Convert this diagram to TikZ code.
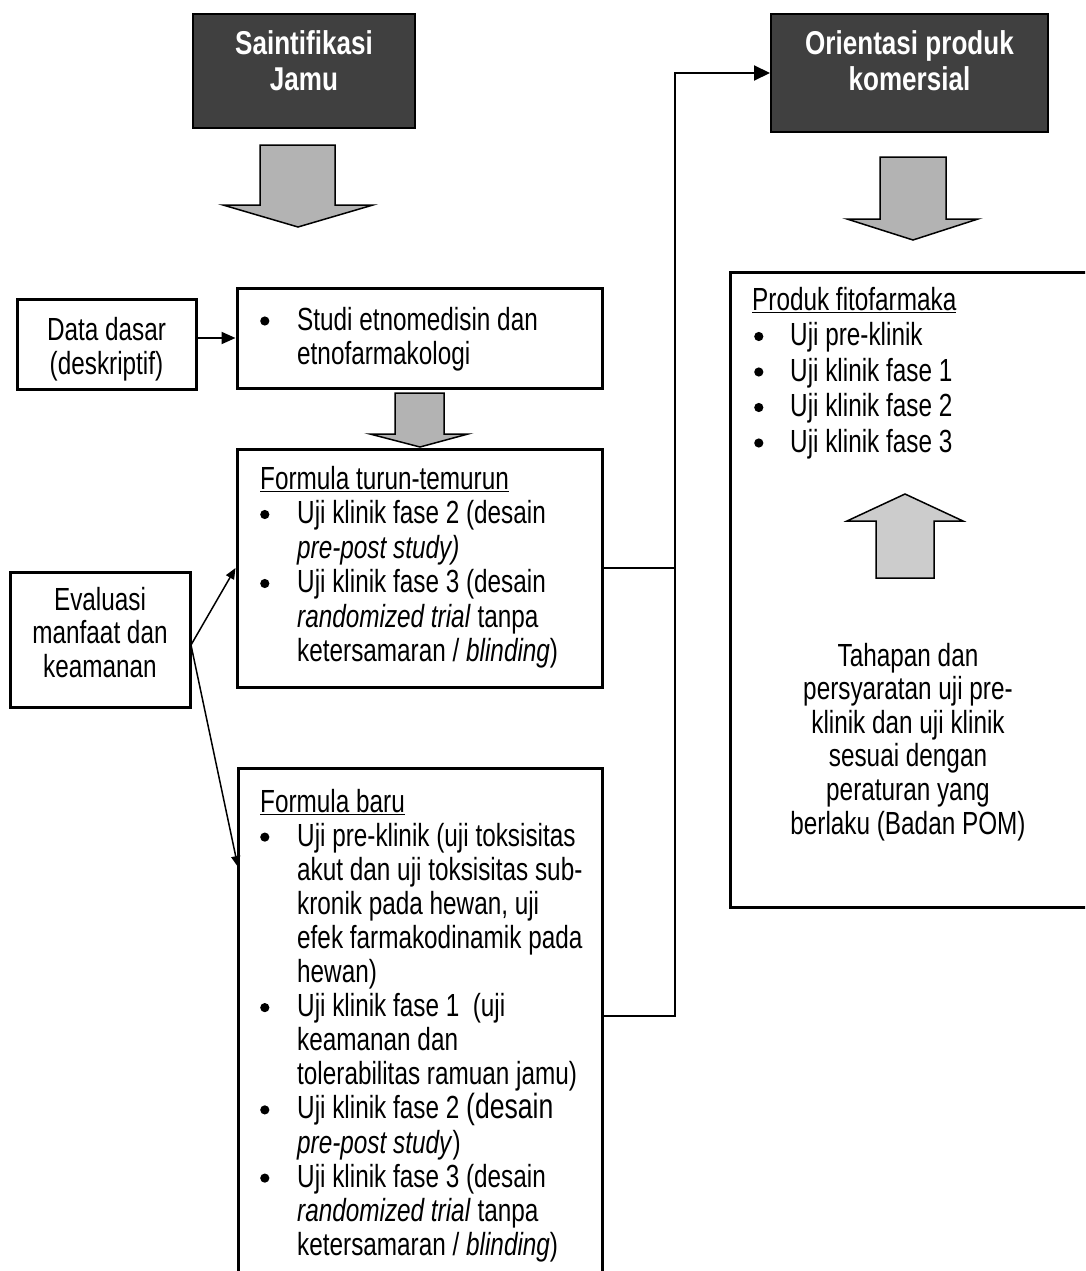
\documentclass[tikz,border=0pt]{standalone}
\usepackage{fontspec}
\setmainfont{Liberation Sans}[FakeStretch=0.76]
\newfontfamily\hdrfont{Liberation Sans}[FakeStretch=0.79]
\usetikzlibrary{arrows.meta}
\definecolor{hdr}{HTML}{404040}
\definecolor{arrowgray}{HTML}{B3B3B3}
\definecolor{arrowlight}{HTML}{CCCCCC}
\newcommand{\bdot}{\tikz[x=1pt,y=1pt,baseline=0pt]\fill[black] (5,9) circle[radius=4.6];}
\newcommand{\bulA}{\makebox[37pt][l]{\hspace{0pt}\bdot}}
\newcommand{\contA}{\hspace*{37pt}}
\newcommand{\bulB}{\makebox[38pt][l]{\hspace{2pt}\bdot}}
\begin{document}
\begin{tikzpicture}[x=1pt,y=-1pt,
  box/.style={draw=black, line width=3pt, fill=white, inner sep=0pt, rectangle},
  hdrbox/.style={draw=black, line width=2pt, fill=hdr, inner sep=0pt, rectangle},
  blockarrow/.style={draw=black, line width=1.5pt, fill=arrowgray, line join=miter},
  conn/.style={draw=black, line width=2pt},
  txt/.style={inner sep=0pt, text=black},
  hdrtxt/.style={inner sep=0pt, font=\hdrfont\fontsize{33}{36}\selectfont\bfseries, text=white},
]
\useasboundingbox (0,0) rectangle (1085,1271);
\clip (0,0) rectangle (1085,1271);
\fill[white] (0,0) rectangle (1085,1271);

% header boxes
\node[hdrbox, minimum width=222pt, minimum height=114pt] (saint) at (304,71) {};
\node[hdrtxt, anchor=base] (sainttxt) at (304,55) {\parbox[t]{220pt}{\centering Saintifikasi\\Jamu}};
\node[hdrbox, minimum width=277pt, minimum height=118pt] (orient) at (909.5,73) {};
\node[hdrtxt, anchor=base] (orienttxt) at (909.5,55) {\parbox[t]{270pt}{\centering Orientasi produk\\komersial}};

% block arrows
\draw[blockarrow] (260,145) -- (335,145) -- (335,205) -- (373,205) -- (298,227) -- (223,205) -- (260,205) -- cycle;
\draw[blockarrow] (880,157) -- (946,157) -- (946,219) -- (978,219) -- (913,240) -- (847,219) -- (880,219) -- cycle;
\draw[blockarrow] (395,393) -- (444,393) -- (444,434) -- (468,434) -- (420,447) -- (370,434) -- (395,434) -- cycle;

% left boxes
\node[box, minimum width=179pt, minimum height=90pt] (data) at (106.5,344) {};
\node[txt, anchor=base] (datatxt) at (106.5,340) {\parbox[t]{175pt}{\fontsize{32}{34}\selectfont\centering Data dasar\\(deskriptif)}};

\node[box, minimum width=180pt, minimum height=135pt] (eval) at (100,639.5) {};
\node[txt, anchor=base] (evaltxt) at (100,610) {\parbox[t]{176pt}{\fontsize{32}{33.5}\selectfont\centering Evaluasi\\manfaat dan\\keamanan}};

% middle boxes
\node[box, minimum width=365pt, minimum height=100pt] (studi) at (419.5,338) {};
\node[txt, anchor=base west] (studitxt) at (260,330) {\parbox[t]{340pt}{\fontsize{32}{34}\selectfont\raggedright
\bulA Studi etnomedisin dan\\
\contA etnofarmakologi}};

\node[box, minimum width=365pt, minimum height=238pt] (turun) at (419.5,568) {};
\node[txt, anchor=base west] (turuntxt) at (260,489) {\parbox[t]{340pt}{\fontsize{32}{34.5}\selectfont\raggedright
\underline{Formula turun-temurun}\\
\bulA Uji klinik fase 2 (desain\\
\contA \textit{pre-post study)}\\
\bulA Uji klinik fase 3 (desain\\
\contA \textit{randomized trial} tanpa\\
\contA ketersamaran / \textit{blinding})}};

\node[box, minimum width=364pt, minimum height=532pt] (baru) at (420,1034) {};
\node[txt, anchor=base west] (barutxt) at (260,812) {\parbox[t]{340pt}{\fontsize{32}{34.1}\selectfont\raggedright
\underline{Formula baru}\\
\bulA Uji pre-klinik (uji toksisitas\\
\contA akut dan uji toksisitas sub-\\
\contA kronik pada hewan, uji\\
\contA efek farmakodinamik pada\\
\contA hewan)\\
\bulA Uji klinik fase 1\ \ (uji\\
\contA keamanan dan\\
\contA tolerabilitas ramuan jamu)\\
\bulA Uji klinik fase 2 {\fontsize{35}{34.1}\selectfont(desain}\\
\contA \textit{pre-post study})\\
\bulA Uji klinik fase 3 (desain\\
\contA \textit{randomized trial} tanpa\\
\contA ketersamaran / \textit{blinding})}};

% right box
\node[box, minimum width=365pt, minimum height=635pt] (produk) at (912.5,589.5) {};
\node[txt, anchor=base west] (produktxt) at (752,310) {\parbox[t]{320pt}{\fontsize{32}{35.5}\selectfont\raggedright
\underline{Produk fitofarmaka}\\
\bulB Uji pre-klinik\\
\bulB Uji klinik fase 1\\
\bulB Uji klinik fase 2\\
\bulB Uji klinik fase 3}};
\draw[blockarrow, fill=arrowlight] (876,578) -- (876,521) -- (847,521) -- (905,494) -- (963,521) -- (934,521) -- (934,578) -- cycle;
\node[txt, anchor=base] (tahaptxt) at (908,666) {\parbox[t]{330pt}{\fontsize{32}{33.6}\selectfont\centering
Tahapan dan\\
persyaratan uji pre-\\
klinik dan uji klinik\\
sesuai dengan\\
peraturan yang\\
berlaku (Badan POM)}};

% connectors
\coordinate (evalout) at (191,645);
\coordinate (baruin) at (238,867);
\coordinate (baruout) at (602,1016);
\coordinate (bus) at (675,73);
\draw[conn, -{Triangle[length=14pt,width=12pt]}] (data.east |- studi.west) -- (studi.west);
\draw[conn, line width=1.5pt, -{Triangle[length=11pt,width=9pt]}] (evalout) -- (turun.west);
\draw[conn, line width=1.5pt, -{Triangle[length=11pt,width=9pt]}] (evalout) -- (baruin);
\draw[conn] (turun.east) -- (turun.east -| bus);
\draw[conn, -{Triangle[length=16pt,width=15pt]}] (baruout) -| (bus) -- (orient.west);
\end{tikzpicture}
\end{document}
